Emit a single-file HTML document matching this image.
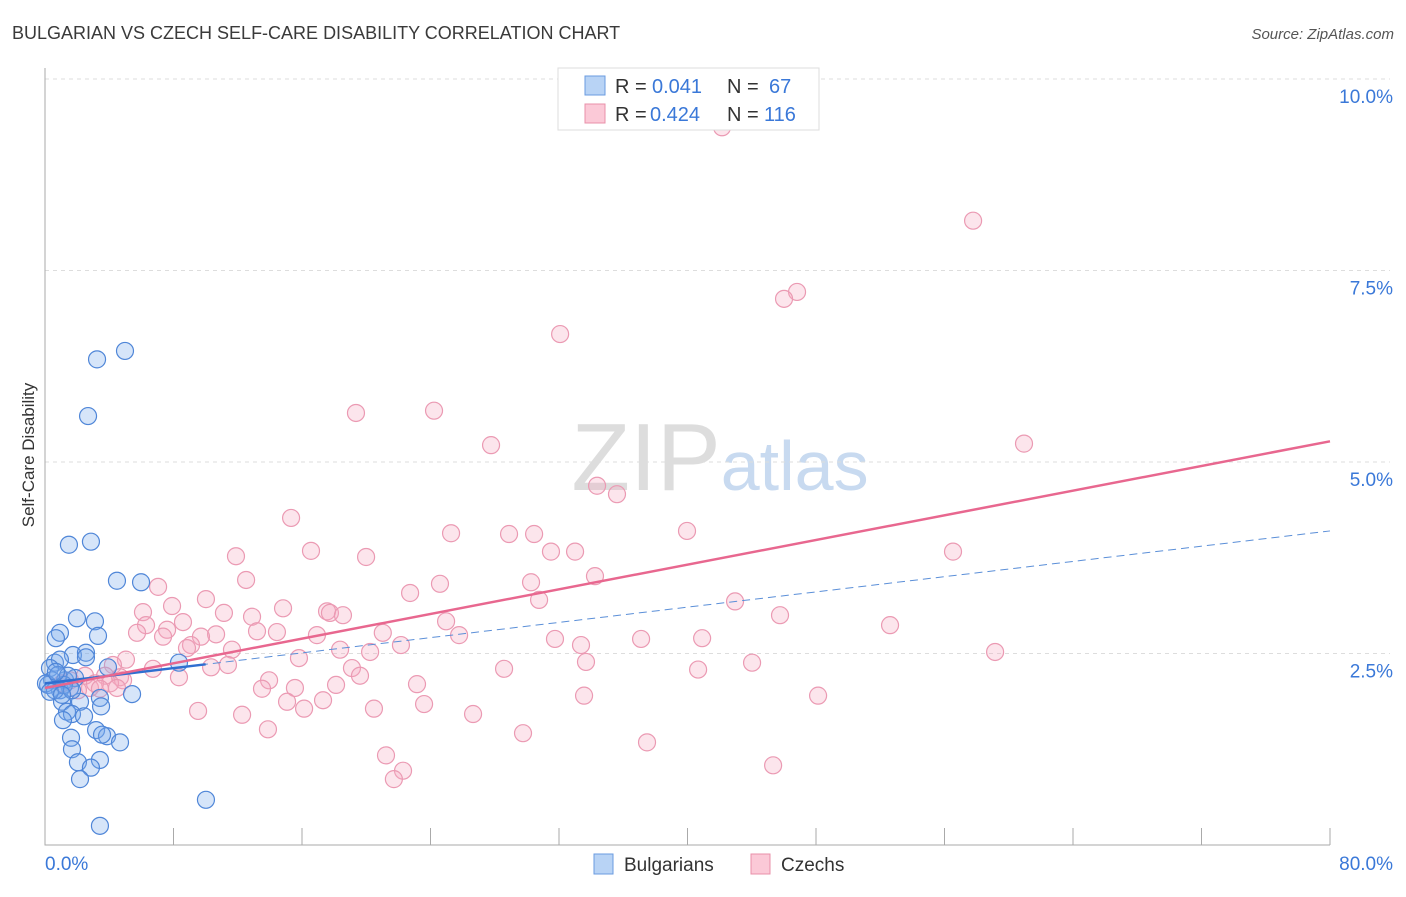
<!DOCTYPE html>
<html><head><meta charset="utf-8"><style>
body{margin:0;background:#fff;font-family:"Liberation Sans",sans-serif;}
svg text{font-family:"Liberation Sans",sans-serif;}
</style></head><body>
<svg id="chart" width="1406" height="892" xmlns="http://www.w3.org/2000/svg">
<text x="12" y="39" font-size="18" fill="#3a3a3a">BULGARIAN VS CZECH SELF-CARE DISABILITY CORRELATION CHART</text>
<text x="1394" y="39" font-size="15" fill="#555" text-anchor="end" font-style="italic">Source: ZipAtlas.com</text>
<text x="720" y="490" font-size="96" fill="#ddd" text-anchor="middle" font-family="Liberation Serif">ZIP<tspan fill="#c8daf0" font-family="Liberation Sans" font-size="70">atlas</tspan></text>
<g id="grid"></g>
<g id="axes"></g>
<text transform="translate(34,455) rotate(-90)" font-size="17" fill="#333" text-anchor="middle">Self-Care Disability</text>
<g id="pts"></g>
<g id="lines"></g>
<g>
<rect x="558" y="68" width="261" height="62" fill="#fff" stroke="#ddd"/>
<rect x="585" y="76" width="20" height="19" fill="#b8d3f5" stroke="#6a9be0"/>
<text x="615" y="93" font-size="20" fill="#333">R =</text>
<text x="652" y="93" font-size="20" fill="#3a78d8">0.041</text>
<text x="727" y="93" font-size="20" fill="#333">N =</text>
<text x="769" y="93" font-size="20" fill="#3a78d8">67</text>
<rect x="585" y="104" width="20" height="19" fill="#fbc9d7" stroke="#e890aa"/>
<text x="615" y="121" font-size="20" fill="#333">R =</text>
<text x="650" y="121" font-size="20" fill="#3a78d8">0.424</text>
<text x="727" y="121" font-size="20" fill="#333">N =</text>
<text x="764" y="121" font-size="20" fill="#3a78d8">116</text>
</g>
<g>
<rect x="594" y="854" width="19" height="20" fill="#b8d3f5" stroke="#6a9be0"/>
<text x="624" y="871" font-size="19" fill="#333">Bulgarians</text>
<rect x="751" y="854" width="19" height="20" fill="#fbc9d7" stroke="#e890aa"/>
<text x="781" y="871" font-size="19" fill="#333">Czechs</text>
</g>
</svg>
<script>
const yTicks=[2.5,5.0,7.5,10.0];
const xTickLabels=["0.0%","80.0%"];
const bulX=[3.24,4.98,2.68,1.49,2.86,4.48,5.98,1.99,3.11,3.30,0.93,0.68,1.74,2.55,2.55,3.92,8.34,0.62,0.93,0.31,0.44,1.25,1.87,0.93,1.56,0.19,5.42,3.42,1.06,2.18,3.49,1.37,1.68,2.43,1.12,3.18,3.86,3.55,4.67,1.62,1.68,2.05,3.42,2.86,2.18,10.02,3.42,0.06,0.62,0.81,1.18,1.43,0.31,0.68,1.68,1.06];
const bulY=[6.34,6.45,5.60,3.92,3.96,3.45,3.43,2.96,2.92,2.73,2.77,2.70,2.48,2.51,2.45,2.32,2.38,2.38,2.42,2.31,2.15,2.15,2.18,2.02,2.05,2.09,1.97,1.92,1.87,1.87,1.81,1.74,1.71,1.68,1.63,1.50,1.42,1.44,1.34,1.40,1.25,1.08,1.11,1.01,0.86,0.59,0.25,2.11,2.02,2.22,2.09,2.21,2.0,2.26,2.02,1.96];
const czeX=[42.15,57.78,46.82,46.01,32.07,24.22,19.36,27.77,60.95,34.37,35.61,15.32,25.28,28.89,30.45,39.97,16.56,11.89,19.99,31.50,33.0,56.53,34.24,12.52,24.59,30.26,7.04,22.73,10.02,30.76,42.96,7.91,6.10,14.82,17.56,17.74,18.55,11.14,12.89,45.76,24.97,8.59,6.29,52.61,5.73,7.6,10.65,13.2,14.44,16.93,21.03,25.78,7.35,9.71,31.75,37.11,40.91,9.09,8.84,22.16,33.37,18.37,20.24,11.64,59.15,15.81,5.04,4.23,6.72,11.39,33.68,44.02,19.11,10.34,28.58,40.66,19.61,8.34,13.95,4.67,4.86,3.74,4.05,23.16,18.12,13.51,15.56,4.48,2.8,33.56,48.13,17.31,15.07,9.53,12.27,16.13,20.48,23.60,26.65,13.88,29.76,37.48,21.23,22.29,21.72,45.33,1.06,1.56,2.05,2.49,3.11,3.42];
const czeY=[9.37,8.15,7.22,7.13,6.67,5.67,5.64,5.22,5.24,4.69,4.58,4.27,4.07,4.06,4.06,4.10,3.84,3.77,3.76,3.83,3.83,3.83,3.51,3.46,3.41,3.43,3.37,3.29,3.21,3.20,3.18,3.12,3.04,3.09,3.05,3.03,3.0,3.03,2.98,3.0,2.92,2.91,2.87,2.87,2.77,2.81,2.75,2.79,2.78,2.74,2.77,2.74,2.72,2.72,2.69,2.69,2.70,2.61,2.57,2.61,2.61,2.55,2.52,2.55,2.52,2.44,2.42,2.35,2.30,2.35,2.39,2.38,2.31,2.32,2.30,2.29,2.21,2.19,2.15,2.19,2.15,2.21,2.11,2.10,2.09,2.04,2.05,2.05,2.05,1.95,1.95,1.89,1.87,1.75,1.70,1.78,1.78,1.84,1.71,1.51,1.46,1.34,1.17,0.97,0.86,1.04,2.11,2.15,2.02,2.21,2.11,2.04];
const bulTrend=[2.11,4.10];
const czeTrend=[2.05,5.27];
const NS="http://www.w3.org/2000/svg";
const X=v=>45+v/80*1285, Y=v=>845-v/10*766;
function mk(tag,parent,attrs){const e=document.createElementNS(NS,tag);for(const k in attrs)e.setAttribute(k,attrs[k]);document.getElementById(parent).appendChild(e);return e;}
yTicks.forEach(t=>{
 const l=mk('line','grid',{x1:45,x2:1390,y1:Y(t),y2:Y(t),stroke:'#ddd','stroke-dasharray':'4,4'});
 
 
 const tx=mk('text','grid',{x:1393,y:Y(t)+24,'font-size':19,fill:'#3a78d8','text-anchor':'end'});
 tx.textContent=t.toFixed(1)+'%';
 
 
});
const ax=mk('path','axes',{d:'M45,68V845H1330',stroke:'#aaa',fill:'none'});


for(let i=0;i<=10;i++){const t=mk('line','axes',{x1:X(i*8),x2:X(i*8),y1:828,y2:845,stroke:'#aaa'});
 
 }
[[0,'start',45],[80,'end',1393]].forEach((d,i)=>{const t=mk('text','axes',{x:d[2],y:870,'font-size':19,fill:'#3a78d8','text-anchor':d[1]});t.textContent=xTickLabels[i];
 
 });
czeX.forEach((v,i)=>{const c=mk('circle','pts',{cx:X(v),cy:Y(czeY[i]),r:8.5,fill:'rgba(246,168,192,0.3)',stroke:'#eb9ab3','stroke-width':1.2});
 
 });
bulX.forEach((v,i)=>{const c=mk('circle','pts',{cx:X(v),cy:Y(bulY[i]),r:8.5,fill:'rgba(120,170,235,0.3)',stroke:'#4f86d8','stroke-width':1.2});
 
 });
const bd=mk('line','lines',{x1:X(0),y1:Y(bulTrend[0]),x2:X(80),y2:Y(bulTrend[1]),stroke:'#5b8fd8','stroke-dasharray':'8,5','stroke-width':1});


const bs=mk('line','lines',{x1:X(0),y1:Y(bulTrend[0]),x2:X(10),y2:Y(bulTrend[0]+(bulTrend[1]-bulTrend[0])/8),stroke:'#2f6fd0','stroke-width':2.5});


const cl=mk('line','lines',{x1:X(0),y1:Y(czeTrend[0]),x2:X(80),y2:Y(czeTrend[1]),stroke:'#e8678f','stroke-width':2.5});


</script>
</body></html>
